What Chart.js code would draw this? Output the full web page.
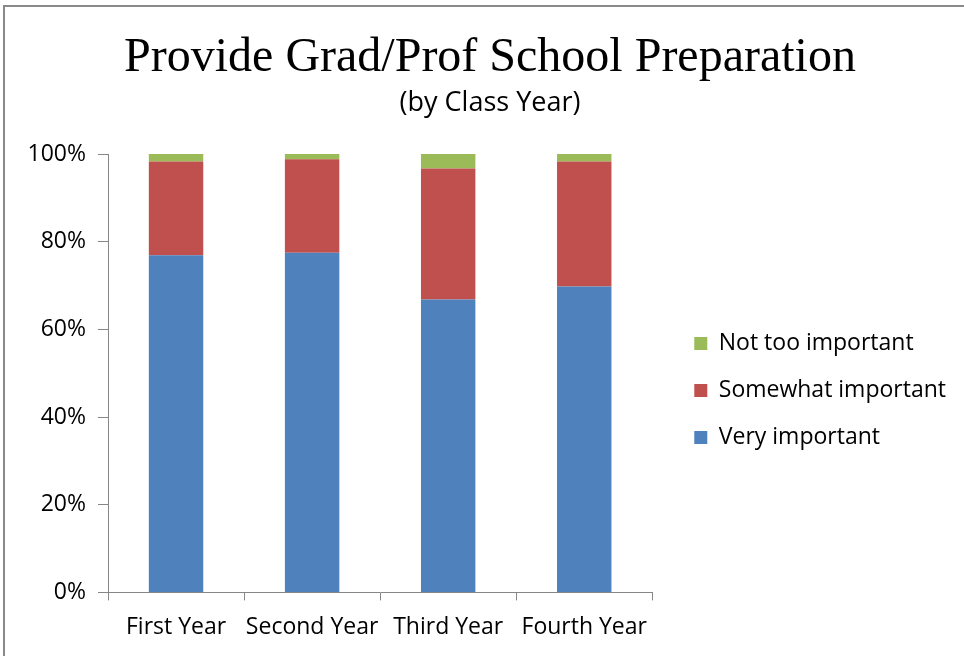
<!DOCTYPE html>
<html>
<head>
<meta charset="utf-8">
<script src="https://cdn.jsdelivr.net/npm/chart.js@4/dist/chart.umd.min.js"></script>
<style>
  html, body { margin: 0; padding: 0; background: #fff; overflow: hidden; }
  #frame { position: absolute; left: 3px; top: 5px; width: 1000px; height: 700px;
           border-left: 2px solid #8a8a8a; border-top: 2px solid #8a8a8a; }
  #wrap { position: absolute; left: 0; top: 0; width: 980px; height: 656px; }
</style>
</head>
<body>
<div id="frame"></div>
<div id="wrap"><canvas id="chart"></canvas></div>
<script>
var categories = ['First Year', 'Second Year', 'Third Year', 'Fourth Year'];
var veryImportant = [76.9, 77.5, 66.8, 69.8];
var somewhatImportant = [21.4, 21.3, 29.9, 28.5];
var notTooImportant = [1.7, 1.2, 3.3, 1.7];
var yTickLabels = ['0%', '20%', '40%', '60%', '80%', '100%'];

var sans = '"Open Sans", Lato, sans-serif';
var axisGray = '#868686';

var ctx = document.getElementById('chart').getContext('2d');
var chart = new Chart(ctx, {
    type: 'bar',
    data: {
        labels: categories,
        datasets: [
            { label: 'Very important', data: veryImportant, backgroundColor: '#4F81BD' },
            { label: 'Somewhat important', data: somewhatImportant, backgroundColor: '#C0504D' },
            { label: 'Not too important', data: notTooImportant, backgroundColor: '#9BBB59' }
        ]
    },
    options: {
        responsive: true,
        maintainAspectRatio: false,
        animation: false,
        datasets: { bar: { barPercentage: 0.4, categoryPercentage: 1.0 } },
        layout: { padding: { top: 0, left: 0, right: 0, bottom: 2 } },
        plugins: {
            title: {
                display: true,
                text: 'Provide Grad/Prof School Preparation',
                color: '#000',
                font: { family: '"Liberation Serif", "Times New Roman", serif', size: 48, weight: 'normal' },
                padding: { top: 30, bottom: 0 }
            },
            subtitle: {
                display: true,
                text: '(by Class Year)',
                color: '#000',
                font: { family: sans, size: 27 },
                padding: { top: 0, bottom: 34 }
            },
            legend: {
                position: 'right',
                fullSize: false,
                reverse: true,
                maxWidth: 400,
                // empty title only pushes the legend items down a little
                title: { display: true, text: '', padding: 10, font: { size: 12 } },
                labels: {
                    boxWidth: 13,
                    boxHeight: 13,
                    padding: 24,
                    color: '#000',
                    font: { family: sans, size: 23 }
                }
            },
            tooltip: { enabled: false }
        },
        scales: {
            x: {
                stacked: true,
                grid: { display: true, drawOnChartArea: false, drawTicks: true, tickLength: 8, color: axisGray, offset: true },
                border: { display: true, color: axisGray, width: 1 },
                ticks: { color: '#000', font: { family: sans, size: 23 }, padding: 13, maxRotation: 0 }
            },
            y: {
                stacked: true,
                min: 0,
                max: 100,
                grid: { display: true, drawOnChartArea: false, drawTicks: true, tickLength: 10, color: axisGray },
                border: { display: true, color: axisGray, width: 1 },
                ticks: {
                    stepSize: 20,
                    color: '#000',
                    padding: 12,
                    font: { family: sans, size: 23 },
                    callback: function (value, index) { return yTickLabels[index]; }
                },
                afterFit: function (scale) { scale.width = 108; }
            },
            // blank axes used as spacers around the legend
            gap: {
                type: 'linear',
                position: 'right',
                display: true,
                grid: { display: false },
                border: { display: false },
                ticks: { display: false },
                afterFit: function (scale) { scale.width = 18; }
            },
            edge: {
                type: 'linear',
                position: 'right',
                weight: 2000,
                display: true,
                grid: { display: false },
                border: { display: false },
                ticks: { display: false },
                afterFit: function (scale) { scale.width = 24; }
            }
        }
    }
});
</script>
</body>
</html>
